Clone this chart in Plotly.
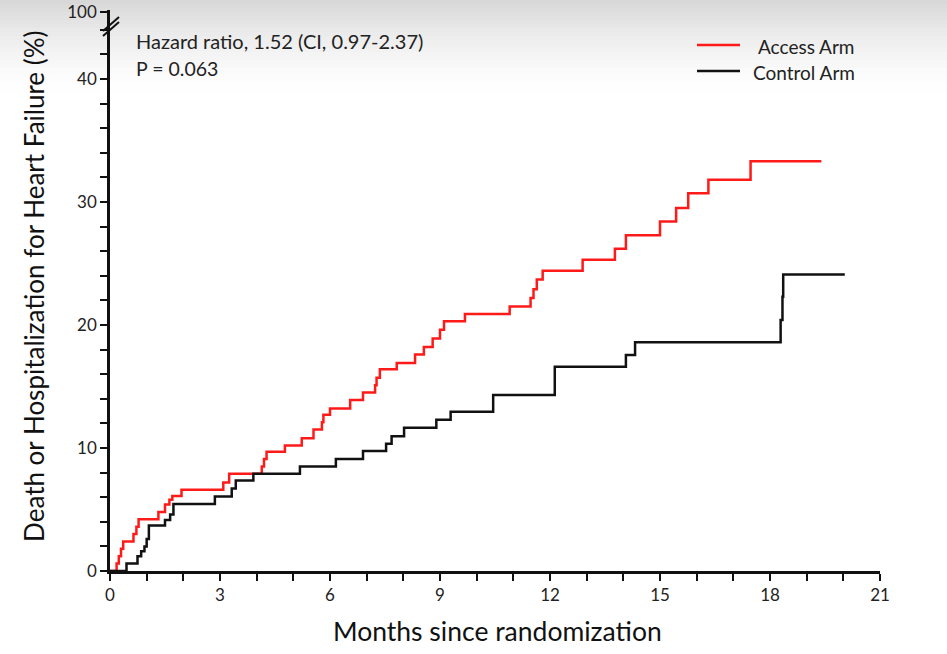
import plotly.graph_objects as go

# ---- data ----
access_t = [0, 0.18, 0.24, 0.30, 0.36, 0.64, 0.72, 0.78, 1.32, 1.50, 1.62, 1.70, 1.95,
            3.09, 3.25, 4.14, 4.20, 4.27, 4.77, 5.23, 5.55, 5.78, 5.82, 6.00, 6.55, 6.90,
            7.23, 7.27, 7.36, 7.82, 8.32, 8.56, 8.80, 9.00, 9.11, 9.68, 10.90, 11.47,
            11.55, 11.64, 11.80, 12.89, 13.77, 14.07, 15.00, 15.44, 15.77, 16.32, 17.47, 19.40]
access_v = [0, 0.6, 1.2, 1.8, 2.4, 3.0, 3.6, 4.2, 4.8, 5.4, 5.8, 6.1, 6.6,
            7.2, 7.9, 8.5, 9.1, 9.7, 10.2, 10.8, 11.5, 12.1, 12.7, 13.2, 13.9, 14.5,
            15.1, 15.7, 16.4, 16.9, 17.6, 18.2, 18.9, 19.6, 20.3, 20.9, 21.5, 22.2,
            22.9, 23.7, 24.4, 25.3, 26.2, 27.3, 28.4, 29.5, 30.7, 31.8, 33.3, 33.3]

control_t = [0, 0.45, 0.75, 0.85, 0.94, 1.00, 1.06, 1.50, 1.64, 1.73, 2.86, 3.32, 3.43,
             3.91, 5.18, 6.16, 6.90, 7.53, 7.68, 8.02, 8.90, 9.29, 10.45, 12.13, 14.07,
             14.32, 18.29, 18.34, 18.36, 20.04]
control_v = [0, 0.6, 1.2, 1.6, 2.0, 2.6, 3.7, 4.15, 4.6, 5.45, 6.05, 6.7, 7.35,
             7.9, 8.5, 9.1, 9.75, 10.35, 10.95, 11.65, 12.3, 12.95, 14.3, 16.6, 17.55,
             18.6, 20.4, 22.3, 24.1, 24.1]

x_ticks = list(range(0, 22))
x_labels = [str(v) if v % 3 == 0 else "" for v in x_ticks]
y_ticks = list(range(0, 45, 2)) + [45.4]
y_labels = [str(v) if v % 10 == 0 else "" for v in range(0, 45, 2)] + ["100"]

hr_text = "Hazard ratio, 1.52 (CI, 0.97-2.37)"
p_text = "P = 0.063"
series_names = ["Access Arm", "Control Arm"]
series_colors = ["#ff1a1a", "#111111"]

FONT = "Lato"
Y_TOP = 45.6
PW = 770.0  # plot area width in px
PH = Y_TOP * 12.3  # plot area height in px
TOP = 571 - PH


def px_x(px):
    return (px - 110) / PW


def px_y(py):
    return (571 - py) / PH


fig = go.Figure()
fig.add_trace(go.Scatter(x=access_t, y=access_v, mode="lines", line_shape="hv",
                         name=series_names[0],
                         line=dict(color=series_colors[0], width=2.5)))
fig.add_trace(go.Scatter(x=control_t, y=control_v, mode="lines", line_shape="hv",
                         name=series_names[1],
                         line=dict(color=series_colors[1], width=2.5)))

# top gradient band (slide background)
shapes = []
n_bands = 25
for i in range(n_bands):
    py0 = i * 4
    py1 = (i + 1) * 4
    t = i / (n_bands - 1)
    g = int(round(255 - (255 - 216) * (1 - t) ** 1.6))
    shapes.append(dict(type="rect", xref="paper", yref="paper",
                       x0=-0.2, x1=1.2, y0=px_y(py1), y1=px_y(py0) + (0.01 if i == 0 else 0),
                       fillcolor=f"rgb({g},{g},{g})", line=dict(width=0), layer="below"))

# axis break marks
for off in [0, 5]:
    shapes.append(dict(type="line", xref="paper", yref="paper",
                       x0=px_x(103), x1=px_x(119),
                       y0=px_y(31 + off), y1=px_y(17 + off),
                       line=dict(color="#111", width=2)))

# manual legend
leg_y = [45, 71]
for name, col, py in zip(series_names, series_colors, leg_y):
    shapes.append(dict(type="line", xref="paper", yref="paper",
                       x0=px_x(697), x1=px_x(740), y0=px_y(py), y1=px_y(py),
                       line=dict(color=col, width=2.5)))

annotations = []
for name, py in zip(series_names, leg_y):
    annotations.append(dict(text=name, xref="paper", yref="paper",
                            x=px_x(857), y=px_y(py + 2),
                            xanchor="right", yanchor="middle", showarrow=False,
                            font=dict(family=FONT, size=19, color="#222")))
annotations.append(dict(text=hr_text, xref="paper", yref="paper",
                        x=px_x(134), y=px_y(41),
                        xanchor="left", yanchor="middle", showarrow=False,
                        font=dict(family=FONT, size=20, color="#222")))
annotations.append(dict(text=p_text, xref="paper", yref="paper",
                        x=px_x(134), y=px_y(69),
                        xanchor="left", yanchor="middle", showarrow=False,
                        font=dict(family=FONT, size=19.5, color="#222")))
annotations.append(dict(text="Death or Hospitalization for Heart Failure (%)",
                        xref="paper", yref="paper",
                        x=px_x(34), y=px_y(287),
                        xanchor="center", yanchor="middle", textangle=-90,
                        showarrow=False,
                        font=dict(family=FONT, size=26, color="#111")))
annotations.append(dict(text="Months since randomization",
                        xref="paper", yref="paper",
                        x=px_x(497), y=px_y(631),
                        xanchor="center", yanchor="middle", showarrow=False,
                        font=dict(family=FONT, size=26.5, color="#111")))

fig.update_layout(
    width=947, height=654,
    margin=dict(l=110, r=67, t=TOP, b=83, autoexpand=False),
    paper_bgcolor="white", plot_bgcolor="rgba(0,0,0,0)",
    showlegend=False,
    shapes=shapes, annotations=annotations,
    font=dict(family=FONT, color="#222"),
)
fig.update_xaxes(range=[0, 21], tickvals=x_ticks, ticktext=x_labels, automargin=False,
                 showgrid=False, zeroline=False, showline=True,
                 linecolor="#111", linewidth=2.5, ticks="outside", ticklen=7,
                 tickwidth=2, tickcolor="#111",
                 tickfont=dict(family=FONT, size=17, color="#222"))
fig.update_yaxes(range=[0, Y_TOP], tickvals=y_ticks, ticktext=y_labels, automargin=False,
                 showgrid=False, zeroline=False, showline=True,
                 linecolor="#111", linewidth=2.5, ticks="outside", ticklen=7,
                 tickwidth=2, tickcolor="#111",
                 tickfont=dict(family=FONT, size=17, color="#222"))

fig.write_html("out.html", config={"displayModeBar": False},
               post_script="document.body.style.margin='0';document.body.style.overflow='hidden';")
